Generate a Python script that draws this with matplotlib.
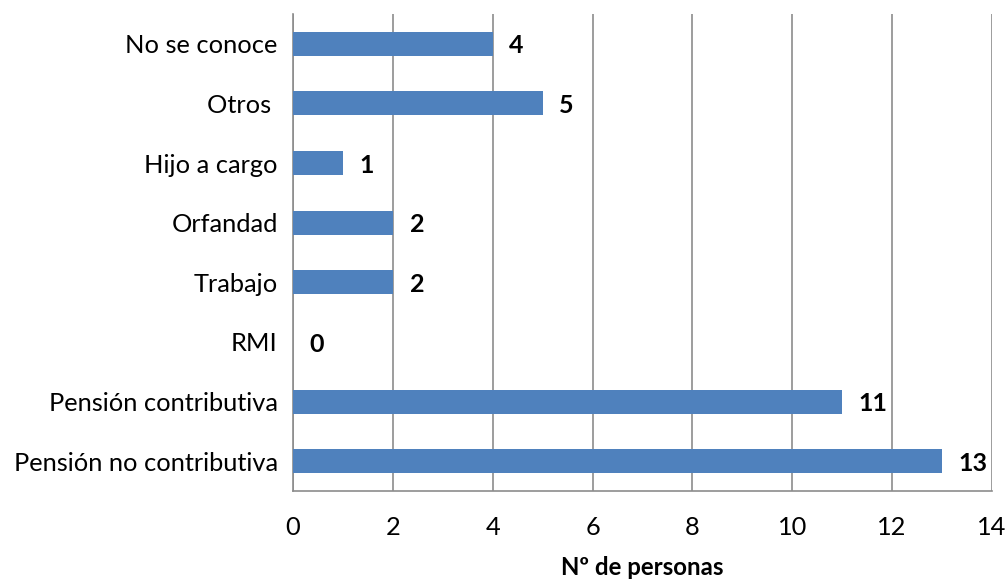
import matplotlib
matplotlib.use("Agg")
import matplotlib.pyplot as plt

plt.rcParams['font.family'] = ['Lato', 'DejaVu Sans']

# data (bottom to top)
categorias = ["Pensión no contributiva", "Pensión contributiva", "RMI", "Trabajo",
              "Orfandad", "Hijo a cargo", "Otros ", "No se conoce"]
personas = [13, 11, 0, 2, 2, 1, 5, 4]
xticks = [0, 2, 4, 6, 8, 10, 12, 14]

fig = plt.figure(figsize=(10.08, 5.8), dpi=100)
ax = fig.add_axes([0.2907, 0.1534, 0.6934, 0.8225])

pos = list(range(len(categorias)))
ax.barh(pos, personas, height=0.4, color="#4F81BD", zorder=3)

for p, v in zip(pos, personas):
    ax.annotate(str(v), (v, p), xytext=(12, -1.5), textcoords="offset points",
                ha="left", va="center", fontsize=18, fontweight="bold", color="black")

ax.set_xlim(0, 14)
ax.set_ylim(-0.5, len(categorias) - 0.5)
ax.set_xticks(xticks)
ax.set_yticks(pos)
ax.set_yticklabels(categorias)
ax.tick_params(axis="both", length=0, labelsize=18.3, colors="black")
ax.tick_params(axis="x", pad=18)
ax.tick_params(axis="y", pad=11)
ax.grid(axis="x", color="#8c8c8c", linewidth=1.2, zorder=0)
for s in ["top", "right"]:
    ax.spines[s].set_visible(False)
for s in ["left", "bottom"]:
    ax.spines[s].set_color("#8c8c8c")
    ax.spines[s].set_linewidth(1.2)

ax.set_xlabel("Nº de personas", fontsize=17.3, fontweight="bold", labelpad=12)

fig.savefig("out.png", dpi=100)
